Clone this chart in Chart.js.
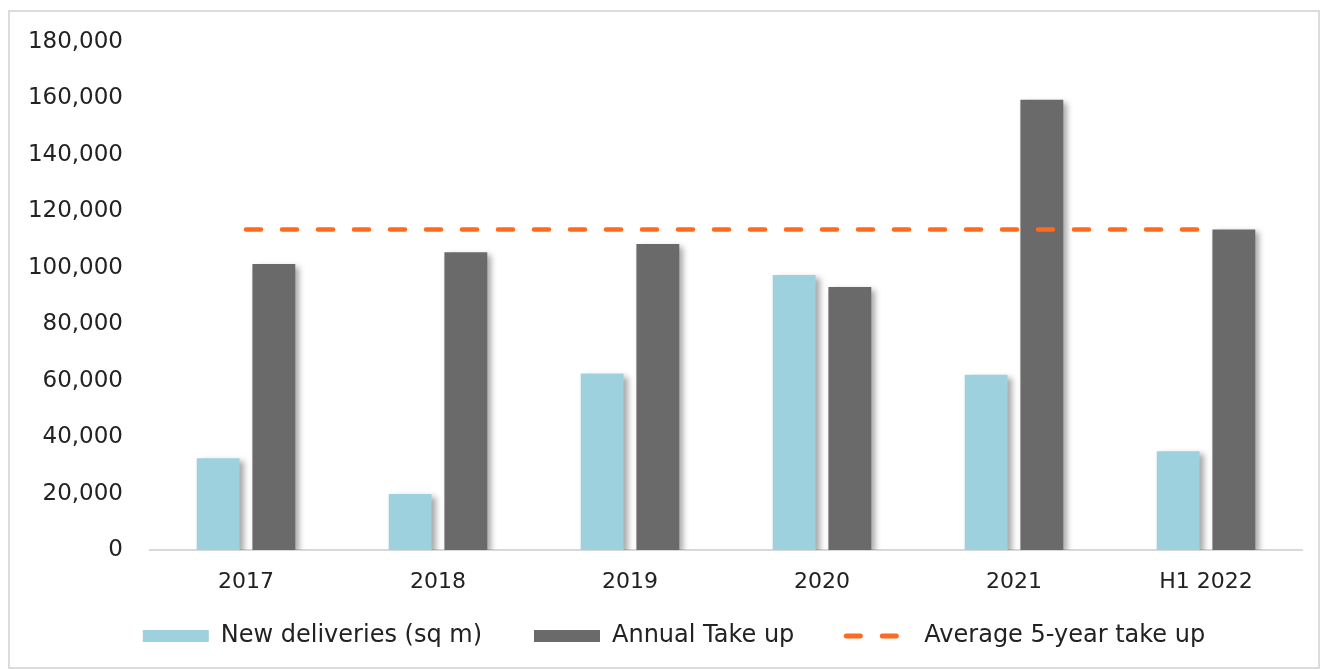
<!DOCTYPE html>
<html>
<head>
<meta charset="utf-8">
<script src="https://cdn.jsdelivr.net/npm/chart.js@4"></script>
<style>
  html, body { margin: 0; padding: 0; background: #fff; }
  #box {
    position: absolute; left: 8px; top: 10px;
    width: 1308px; height: 655px;
    border: 2px solid #dcdcdc;
  }
  #chart { display: block; }
</style>
</head>
<body>
<div id="box"><canvas id="chart" width="1308" height="655"></canvas></div>
<script>
// 数据
const categories = ['2017', '2018', '2019', '2020', '2021', 'H1 2022'];
const newDeliveries = [32500, 19800, 62500, 97400, 62100, 35000];
const annualTakeUp = [101300, 105500, 108400, 93200, 159500, 113600];
const averageTakeUp = [113600, 113600, 113600, 113600, 113600, 113600];
const yTicks = [0, 20000, 40000, 60000, 80000, 100000, 120000, 140000, 160000, 180000];

// 柱子阴影
const barShadow = {
    id: 'barShadow',
    beforeDatasetDraw(chart, args) {
        if (args.meta.type !== 'bar') return;
        const ctx = chart.ctx;
        ctx.save();
        ctx.shadowColor = 'rgba(0, 0, 0, 0.35)';
        ctx.shadowBlur = 6;
        ctx.shadowOffsetX = 4;
        ctx.shadowOffsetY = 3;
    },
    afterDatasetDraw(chart, args) {
        if (args.meta.type !== 'bar') return;
        chart.ctx.restore();
    }
};

// 图例高度压缩并上移
const legendPlace = {
    id: 'legendPlace',
    afterInit(chart) {
        const lg = chart.legend;
        const fit = lg.fit;
        lg.fit = function () {
            fit.call(this);
            this.height = 57;
        };
    },
    afterLayout(chart) {
        const lg = chart.legend;
        lg.top -= 26;
        lg.left += 18;
        lg.right += 18;
    }
};

const tickFont = { family: 'DejaVu Sans', size: 23 };
const xFont = { family: 'DejaVu Sans', size: 22 };
const legendFont = { family: 'DejaVu Sans', size: 24 };

new Chart(document.getElementById('chart'), {
    type: 'bar',
    data: {
        labels: categories,
        datasets: [{
            label: 'New deliveries (sq m)',
            data: newDeliveries,
            backgroundColor: '#9dd1dd',
            borderWidth: 0,
            order: 1
        }, {
            label: 'Annual Take up',
            data: annualTakeUp,
            backgroundColor: '#696a69',
            borderWidth: 0,
            order: 1
        }, {
            type: 'line',
            label: 'Average 5-year take up',
            data: averageTakeUp,
            borderColor: '#ff6a1f',
            backgroundColor: '#ff6a1f',
            borderWidth: 4.5,
            borderDash: [15, 21],
            borderCapStyle: 'round',
            pointRadius: 0,
            order: 0
        }]
    },
    options: {
        responsive: false,
        animation: false,
        layout: { padding: { top: 30, right: 16, left: 0, bottom: 12 } },
        datasets: {
            bar: { categoryPercentage: 0.58, barPercentage: 0.77 }
        },
        scales: {
            x: {
                grid: { display: false, drawTicks: false },
                border: { display: true, color: '#d9d9d9', width: 2 },
                ticks: { color: '#222', font: xFont, padding: 19 },
                afterFit(scale) { scale.height = 48; }
            },
            y: {
                min: 0,
                max: 180000,
                afterBuildTicks(scale) {
                    scale.ticks = yTicks.map(v => ({ value: v }));
                },
                afterFit(scale) {
                    scale.width = 140;
                    scale.paddingTop = 0;
                    scale.paddingBottom = 0;
                },
                grid: { display: false, drawTicks: false },
                border: { display: false },
                ticks: {
                    color: '#222',
                    font: tickFont,
                    padding: 27,
                    callback: v => v.toLocaleString('en-US')
                }
            }
        },
        plugins: {
            tooltip: { enabled: false },
            legend: {
                position: 'bottom',
                labels: {
                    usePointStyle: true,
                    pointStyleWidth: 66,
                    boxHeight: 12,
                    padding: 52,
                    color: '#222',
                    font: legendFont,
                    sort: (a, b) => a.datasetIndex - b.datasetIndex,
                    generateLabels(chart) {
                        const items = Chart.defaults.plugins.legend.labels.generateLabels(chart);
                        items.forEach(it => {
                            const ds = chart.data.datasets[it.datasetIndex];
                            if (ds.type === 'line') {
                                it.pointStyle = 'line';
                                it.lineDash = [14, 22];
                                it.lineCap = 'round';
                                it.lineWidth = 5;
                                it.strokeStyle = ds.borderColor;
                            } else {
                                it.pointStyle = 'rect';
                                it.lineWidth = 0;
                            }
                        });
                        return items;
                    }
                }
            }
        }
    },
    plugins: [barShadow, legendPlace]
});
</script>
</body>
</html>
